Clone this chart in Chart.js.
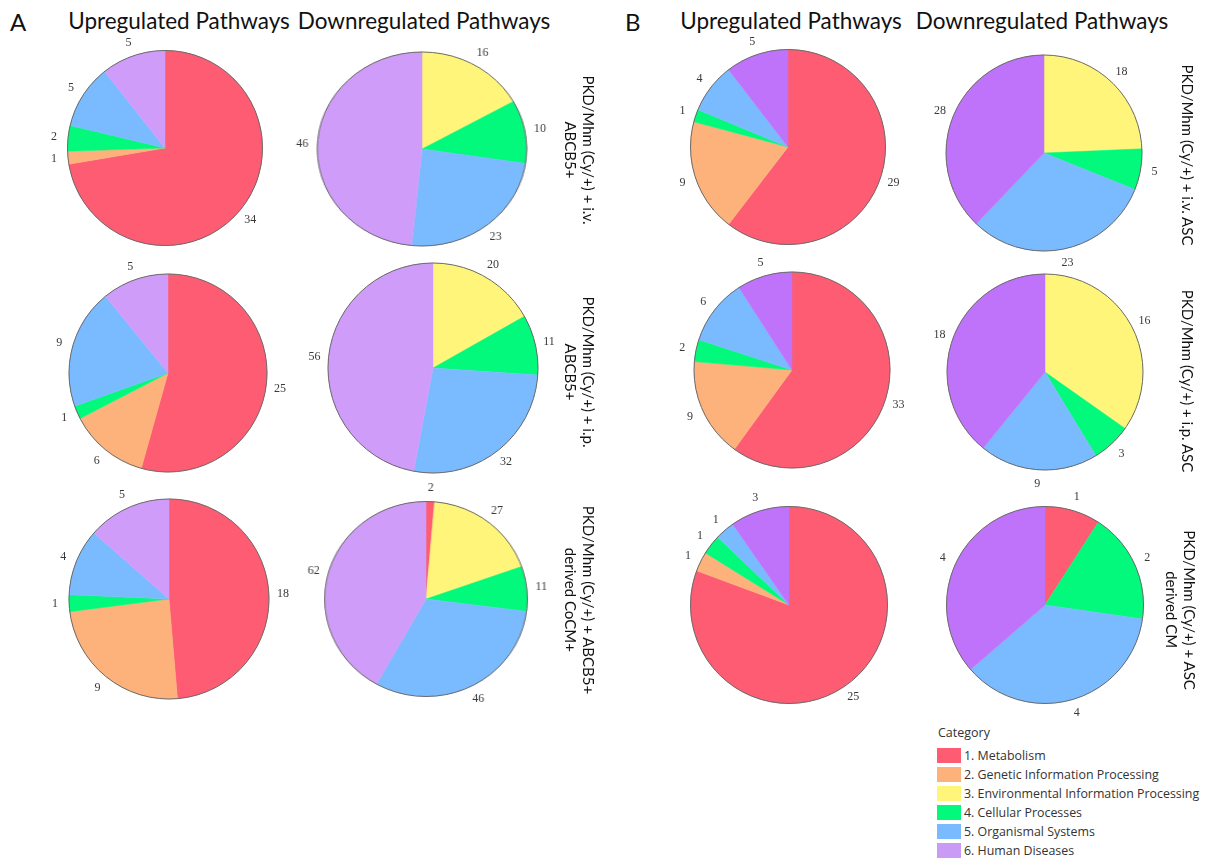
<!DOCTYPE html>
<html>
<head>
<meta charset="utf-8">
<title>KEGG pathway categories</title>
<script src="https://cdn.jsdelivr.net/npm/chart.js@4.4.1/dist/chart.umd.min.js"></script>
<style>
  html, body { margin: 0; padding: 0; background: #ffffff; }
  #page { position: relative; width: 1211px; height: 859px; overflow: hidden; font-family: Lato, "Noto Sans", sans-serif; color: #111; }
  .panel-letter { position: absolute; font-size: 24px; line-height: 24px; }
  .col-title { position: absolute; font-size: 22.5px; line-height: 24px; white-space: nowrap; transform: translateX(-50%); }
  .pie-wrap { position: absolute; }
  .pie-wrap canvas { display: block; }
  .side-label { position: absolute; writing-mode: vertical-rl; font-size: 15px; line-height: 18px; text-align: center; white-space: nowrap; transform: translate(-50%, -50%); }
  #legend { position: absolute; left: 937px; top: 724px; font-family: "Open Sans", "Noto Sans", sans-serif; font-size: 12.4px; color: #333; }
  #legend .head { font-size: 12.5px; margin-bottom: 5px; margin-left: 1px; }
  #legend .row { display: flex; align-items: center; height: 19px; }
  #legend .sw { width: 24px; height: 15px; margin-right: 3px; }
</style>
</head>
<body>
<div id="page">
  <div class="panel-letter" style="left:10px; top:10px;">A</div>
  <div class="panel-letter" style="left:625px; top:10px;">B</div>
  <div class="col-title" style="left:179px; top:9px;">Upregulated Pathways</div>
  <div class="col-title" style="left:424px; top:9px;">Downregulated Pathways</div>
  <div class="col-title" style="left:791px; top:9px;">Upregulated Pathways</div>
  <div class="col-title" style="left:1042px; top:9px;">Downregulated Pathways</div>
  <div id="legend"></div>
</div>
<script>
// Pathway categories (same order in every pie, drawn clockwise from 12 o'clock)
const categories = [
  "1. Metabolism",
  "2. Genetic Information Processing",
  "3. Environmental Information Processing",
  "4. Cellular Processes",
  "5. Organismal Systems",
  "6. Human Diseases"
];

// Panel A: ABCB5+ treatments — pathway counts per category
const upIvABCB5   = [34, 1, 0, 2, 5, 5];
const downIvABCB5 = [0, 0, 16, 10, 23, 46];
const upIpABCB5   = [25, 6, 0, 1, 9, 5];
const downIpABCB5 = [0, 0, 20, 11, 32, 56];
const upCoCM      = [18, 9, 0, 1, 4, 5];
const downCoCM    = [2, 0, 27, 11, 46, 62];

// Panel B: ASC treatments — pathway counts per category
const upIvASC   = [29, 9, 0, 1, 4, 5];
const downIvASC = [0, 0, 18, 5, 23, 28];
const upIpASC   = [33, 9, 0, 2, 6, 5];
const downIpASC = [0, 0, 16, 3, 9, 18];
const upCM      = [25, 1, 0, 1, 1, 3];
const downCM    = [1, 0, 0, 2, 4, 4];

// Treatment labels shown beside each row
const rowLabelsA = [
  ["PKD/Mhm (Cy/+) + i.v.", "ABCB5+"],
  ["PKD/Mhm (Cy/+) + i.p.", "ABCB5+"],
  ["PKD/Mhm (Cy/+) + ABCB5+", "derived CoCM+"]
];
const rowLabelsB = [
  ["PKD/Mhm (Cy/+) + i.v. ASC"],
  ["PKD/Mhm (Cy/+) + i.p. ASC"],
  ["PKD/Mhm (Cy/+) + ASC", "derived CM"]
];

// Category colours
const baseColors = ["#fe5c72", "#fdb27b", "#fef57a", "#02f97c", "#7abafe"];
const purpleA = "#d09cf9";
const purpleB = "#bf72fa";
const colorsA = baseColors.concat([purpleA]);
const colorsB = baseColors.concat([purpleB]);

// Layout of each pie: centre, radius, horizontal stretch
const pies = [
  { data: upIvABCB5,   colors: colorsA, cx: 165,  cy: 148, r: 97.5, sx: 1.0 },
  { data: downIvABCB5, colors: colorsA, cx: 422,  cy: 149, r: 97,   sx: 1.08 },
  { data: upIpABCB5,   colors: colorsA, cx: 168,  cy: 373, r: 99,   sx: 1.0 },
  { data: downIpABCB5, colors: colorsA, cx: 433,  cy: 368, r: 105,  sx: 1.0 },
  { data: upCoCM,      colors: colorsA, cx: 169,  cy: 599, r: 100,  sx: 1.0 },
  { data: downCoCM,    colors: colorsA, cx: 426,  cy: 599, r: 97.5, sx: 1.04 },
  { data: upIvASC,     colors: colorsB, cx: 788,  cy: 147, r: 97.5, sx: 1.0 },
  { data: downIvASC,   colors: colorsB, cx: 1044, cy: 153, r: 98,   sx: 1.0 },
  { data: upIpASC,     colors: colorsB, cx: 792,  cy: 370, r: 98,   sx: 1.0 },
  { data: downIpASC,   colors: colorsB, cx: 1045, cy: 372, r: 98,   sx: 1.0 },
  { data: upCM,        colors: colorsB, cx: 789,  cy: 605, r: 98.5, sx: 1.0 },
  { data: downCM,      colors: colorsB, cx: 1045, cy: 605, r: 98.5, sx: 1.0 }
];

// Draws the thin outer rim and the count next to each non-empty slice
const outsideLabels = {
  id: 'outsideLabels',
  afterDatasetsDraw(chart, args, opts) {
    const ctx = chart.ctx;
    const meta = chart.getDatasetMeta(0);
    const values = chart.data.datasets[0].data;
    const first = meta.data[0];
    ctx.save();
    ctx.beginPath();
    ctx.arc(first.x, first.y, first.outerRadius, 0, Math.PI * 2);
    ctx.strokeStyle = '#6a6a6a';
    ctx.lineWidth = 1;
    ctx.stroke();
    ctx.fillStyle = '#3a3a3a';
    ctx.font = '12px "Liberation Serif", "DejaVu Serif", serif';
    ctx.textAlign = 'center';
    ctx.textBaseline = 'middle';
    meta.data.forEach((arc, i) => {
      if (!values[i]) return;
      const mid = (arc.startAngle + arc.endAngle) / 2;
      const d = arc.outerRadius + opts.gap;
      const x = arc.x + Math.cos(mid) * d;
      const y = arc.y + Math.sin(mid) * d;
      ctx.save();
      ctx.translate(x, y);
      ctx.scale(1 / opts.sx, 1);
      ctx.fillText(String(values[i]), 0, 0);
      ctx.restore();
    });
    ctx.restore();
  }
};

const page = document.getElementById('page');
const W = 270, H = 250;

pies.forEach(p => {
  const wrap = document.createElement('div');
  wrap.className = 'pie-wrap';
  wrap.style.left = (p.cx - W / 2) + 'px';
  wrap.style.top = (p.cy - H / 2) + 'px';
  wrap.style.width = W + 'px';
  wrap.style.height = H + 'px';
  if (p.sx !== 1) {
    wrap.style.transform = 'scaleX(' + p.sx + ')';
    wrap.style.transformOrigin = '50% 50%';
  }
  const canvas = document.createElement('canvas');
  canvas.width = W;
  canvas.height = H;
  wrap.appendChild(canvas);
  page.appendChild(wrap);

  new Chart(canvas, {
    type: 'pie',
    data: {
      labels: categories,
      datasets: [{
        data: p.data,
        backgroundColor: p.colors,
        borderColor: p.colors,
        borderWidth: 0.5
      }]
    },
    options: {
      responsive: false,
      animation: false,
      radius: p.r,
      layout: { padding: 0 },
      plugins: {
        legend: { display: false },
        tooltip: { enabled: false },
        outsideLabels: { gap: 14, sx: p.sx }
      }
    },
    plugins: [outsideLabels]
  });
});

// Row labels beside the pies
function addSideLabel(lines, x, y) {
  const el = document.createElement('div');
  el.className = 'side-label';
  el.style.left = x + 'px';
  el.style.top = y + 'px';
  el.innerHTML = lines.join('<br>');
  page.appendChild(el);
}
const rowY = [150, 372, 600];
const rowYB = [155, 381, 610];
rowLabelsA.forEach((l, i) => addSideLabel(l, 580, rowY[i]));
rowLabelsB.forEach((l, i) => addSideLabel(l, l.length > 1 ? 1181 : 1188, rowYB[i]));

// Category legend
const legend = document.getElementById('legend');
legend.innerHTML = '<div class="head">Category</div>' +
  categories.map((c, i) => {
    const col = i === 5 ? '#c99bf5' : baseColors[i];
    return '<div class="row"><div class="sw" style="background:' + col + '"></div><span>' + c + '</span></div>';
  }).join('');
</script>
</body>
</html>
